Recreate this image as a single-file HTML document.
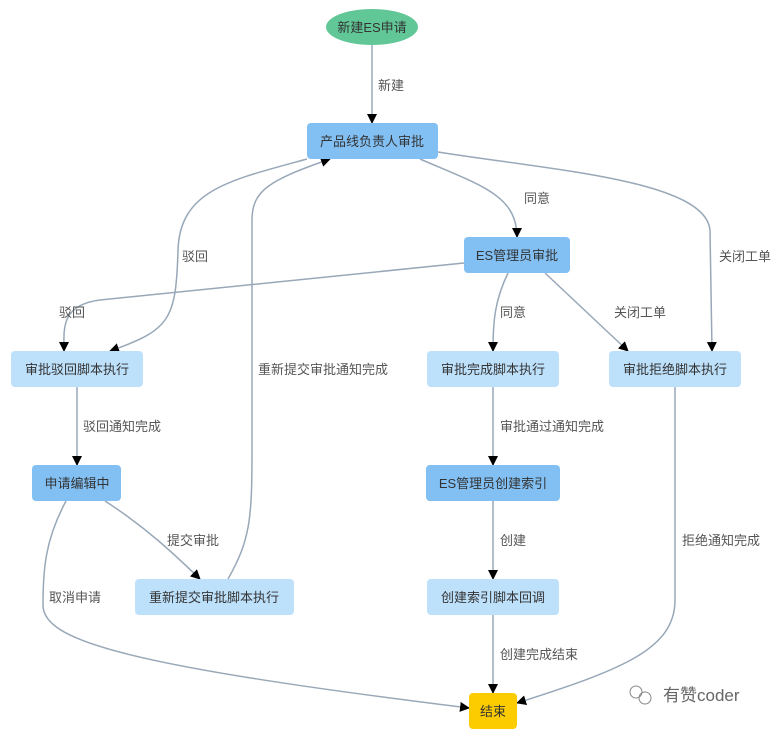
<!DOCTYPE html>
<html><head><meta charset="utf-8"><style>
body{margin:0;background:#fff;}
svg text{font-family:"Liberation Sans","Noto Sans CJK SC",sans-serif;font-size:13px;fill:#333;}
.l{fill:#555;}
.e{fill:none;stroke:#98a8b8;stroke-width:1.5;}
</style></head><body>
<svg width="780" height="729" viewBox="0 0 780 729" xmlns="http://www.w3.org/2000/svg">
<defs><marker id="a" markerWidth="10" markerHeight="10" refX="9" refY="5" orient="auto" markerUnits="userSpaceOnUse"><path d="M0,0L10,5L0,10z" fill="#000"/></marker></defs>
<!-- edges -->
<path class="e" marker-end="url(#a)" d="M372,45L372,123"/>
<path class="e" marker-end="url(#a)" d="M420,159C480,185 517,195 517,237"/>
<path class="e" marker-end="url(#a)" d="M438,152C550,170 705,180 710,230 L712,351"/>
<path class="e" marker-end="url(#a)" d="M307,159C230,180 180,190 178,250 C176,320 170,330 110,351"/>
<path class="e" marker-end="url(#a)" d="M464,263C300,280 200,290 100,300 C60,305 64,330 64,351"/>
<path class="e" marker-end="url(#a)" d="M508,273C495,300 493,320 493,351"/>
<path class="e" marker-end="url(#a)" d="M545,273L628,351"/>
<path class="e" marker-end="url(#a)" d="M77,387L77,465"/>
<path class="e" marker-end="url(#a)" d="M493,387L493,465"/>
<path class="e" marker-end="url(#a)" d="M493,501L493,579"/>
<path class="e" marker-end="url(#a)" d="M493,615L493,693"/>
<path class="e" marker-end="url(#a)" d="M105,501C150,530 180,560 200,579"/>
<path class="e" marker-end="url(#a)" d="M228,579C250,540 252,520 252,450 L252,220 C252,190 270,180 330,159"/>
<path class="e" marker-end="url(#a)" d="M66,501C45,540 43,570 43,605 C43,640 120,665 469,708"/>
<path class="e" marker-end="url(#a)" d="M675,387L675,600 C675,650 620,670 517,703"/>
<!-- nodes -->
<ellipse cx="372" cy="27" rx="46" ry="18" fill="#62c797"/>
<text x="372" y="32" text-anchor="middle">新建ES申请</text>
<rect x="307" y="123" width="131" height="36" rx="4" fill="#82c0f4"/><text x="372" y="146" text-anchor="middle">产品线负责人审批</text>
<rect x="464" y="237" width="106" height="36" rx="4" fill="#82c0f4"/><text x="517" y="260" text-anchor="middle">ES管理员审批</text>
<rect x="11" y="351" width="132" height="36" rx="4" fill="#bde0fb"/><text x="77" y="374" text-anchor="middle">审批驳回脚本执行</text>
<rect x="427" y="351" width="132" height="36" rx="4" fill="#bde0fb"/><text x="493" y="374" text-anchor="middle">审批完成脚本执行</text>
<rect x="609" y="351" width="132" height="36" rx="4" fill="#bde0fb"/><text x="675" y="374" text-anchor="middle">审批拒绝脚本执行</text>
<rect x="32" y="465" width="89" height="36" rx="4" fill="#82c0f4"/><text x="77" y="488" text-anchor="middle">申请编辑中</text>
<rect x="426" y="465" width="134" height="36" rx="4" fill="#82c0f4"/><text x="493" y="488" text-anchor="middle">ES管理员创建索引</text>
<rect x="135" y="579" width="159" height="36" rx="4" fill="#bde0fb"/><text x="214" y="602" text-anchor="middle">重新提交审批脚本执行</text>
<rect x="427" y="579" width="132" height="36" rx="4" fill="#bde0fb"/><text x="493" y="602" text-anchor="middle">创建索引脚本回调</text>
<rect x="469" y="693" width="48" height="36" rx="4" fill="#fccc00"/><text x="493" y="716" text-anchor="middle">结束</text>
<!-- labels -->
<text class="l" x="378" y="90">新建</text>
<text class="l" x="524" y="203">同意</text>
<text class="l" x="719" y="261">关闭工单</text>
<text class="l" x="182" y="261">驳回</text>
<text class="l" x="59" y="317">驳回</text>
<text class="l" x="500" y="317">同意</text>
<text class="l" x="614" y="317">关闭工单</text>
<text class="l" x="258" y="374">重新提交审批通知完成</text>
<text class="l" x="83" y="431">驳回通知完成</text>
<text class="l" x="500" y="431">审批通过通知完成</text>
<text class="l" x="167" y="545">提交审批</text>
<text class="l" x="500" y="545">创建</text>
<text class="l" x="682" y="545">拒绝通知完成</text>
<text class="l" x="49" y="602">取消申请</text>
<text class="l" x="500" y="659">创建完成结束</text>
<circle cx="636" cy="692" r="6" fill="none" stroke="#888"/><circle cx="645" cy="698" r="6" fill="none" stroke="#888"/>
<text x="663" y="701" style="font-size:17px;fill:#666">有赞coder</text>
</svg>
</body></html>
